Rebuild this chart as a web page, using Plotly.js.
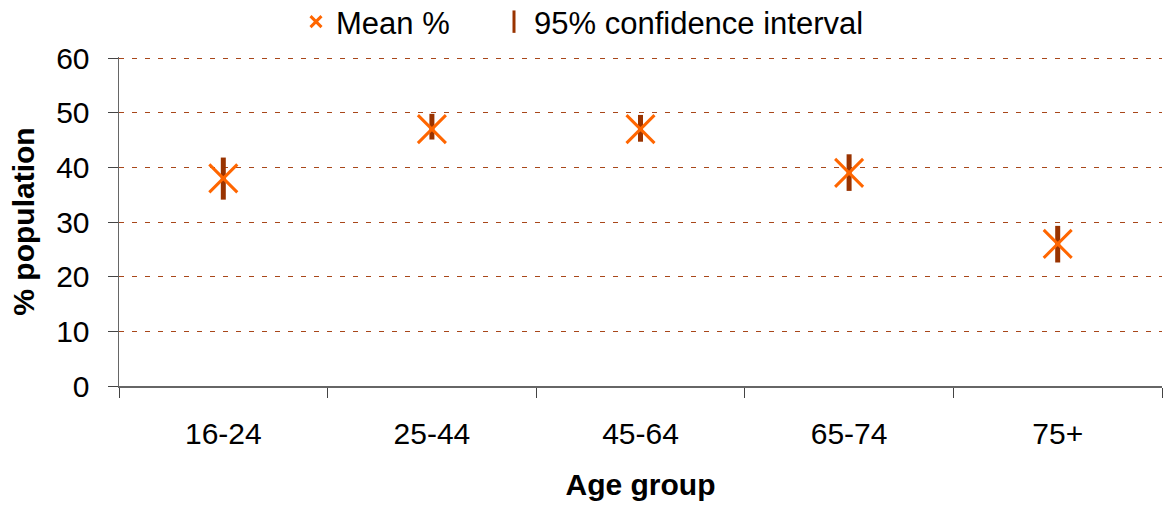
<!DOCTYPE html>
<html>
<head>
<meta charset="utf-8">
<script src="https://cdn.plot.ly/plotly-3.0.1.min.js"></script>
<style>html,body{margin:0;padding:0;background:#fff;}#chart{width:1166px;height:506px;}</style>
</head>
<body>
<div id="chart"></div>
<script>
const ageGroups = ['16-24', '25-44', '45-64', '65-74', '75+'];
const meanPct = [38, 47, 47, 39, 26];
const ciLow = [34.1, 45.1, 44.7, 35.7, 22.6];
const ciHigh = [41.8, 49.8, 49.6, 42.4, 29.3];
const yTicks = [0, 10, 20, 30, 40, 50, 60];

const FONT = 'Liberation Sans, Arial, sans-serif';
const ORANGE = '#ff6600';
const BROWN = '#993300';

const ciTrace = {
  type: 'scatter', mode: 'markers', x: ageGroups, y: meanPct,
  marker: {size: 1, color: 'rgba(0,0,0,0)'},
  error_y: {
    type: 'data', symmetric: false,
    array: ciHigh.map((h, i) => h - meanPct[i]),
    arrayminus: ciLow.map((l, i) => meanPct[i] - l),
    color: BROWN, thickness: 5, width: 0
  },
  showlegend: false, hoverinfo: 'skip'
};
const meanTrace = {
  type: 'scatter', mode: 'markers', x: ageGroups, y: meanPct,
  marker: {symbol: 'x-thin-open', size: 28, color: ORANGE, line: {color: ORANGE, width: 3}},
  showlegend: false
};
const legMean = {
  type: 'scatter', mode: 'markers', x: [null], y: [null], name: 'Mean %', legend: 'legend',
  marker: {symbol: 'x-thin-open', size: 11, color: ORANGE, line: {color: ORANGE, width: 3}}
};
const legCI = {
  type: 'scatter', mode: 'markers', x: [null], y: [null], name: '95% confidence interval', legend: 'legend2',
  marker: {symbol: 'line-ns-open', size: 18, color: BROWN, line: {color: BROWN, width: 3}}
};

const legendBase = {
  orientation: 'h', xref: 'container', yref: 'container',
  xanchor: 'left', y: 1 - 22 / 506, yanchor: 'middle',
  font: {family: FONT, size: 31, color: '#000'}, bgcolor: 'rgba(0,0,0,0)'
};

const layout = {
  width: 1166, height: 506,
  margin: {l: 119, r: 4, t: 57, b: 120},
  paper_bgcolor: '#fff', plot_bgcolor: '#fff',
  font: {family: FONT, size: 29, color: '#000'},
  showlegend: true,
  legend: Object.assign({}, legendBase, {x: 296 / 1166}),
  legend2: Object.assign({}, legendBase, {x: 494 / 1166}),
  xaxis: {
    type: 'category', range: [-0.5, 4.5], tickson: 'boundaries',
    showline: true, linecolor: '#666', linewidth: 1.5,
    ticks: 'outside', ticklen: 10, tickcolor: '#444', tickwidth: 1,
    showgrid: false, zeroline: false, automargin: false,
    ticklabelstandoff: 20,
    tickfont: {family: FONT, size: 30, color: '#000'},
    title: {text: 'Age group', font: {family: FONT, size: 30, color: '#000', weight: 'bold'}, standoff: 25}
  },
  yaxis: {
    range: [0, 60.2], tickvals: yTicks, ticktext: yTicks.map(String),
    showline: true, linecolor: '#666', linewidth: 1.5,
    ticks: 'outside', ticklen: 10, tickcolor: '#444', tickwidth: 1,
    showgrid: true, gridcolor: '#a8471a', gridwidth: 1, griddash: '5px,8px',
    zeroline: false, automargin: false,
    ticklabelstandoff: 12,
    tickfont: {family: FONT, size: 30, color: '#000'},
    title: {text: '% population', font: {family: FONT, size: 30, color: '#000', weight: 'bold'}, standoff: 12}
  }
};

Plotly.newPlot('chart', [ciTrace, meanTrace, legMean, legCI], layout, {displayModeBar: false, staticPlot: true});
</script>
</body>
</html>
